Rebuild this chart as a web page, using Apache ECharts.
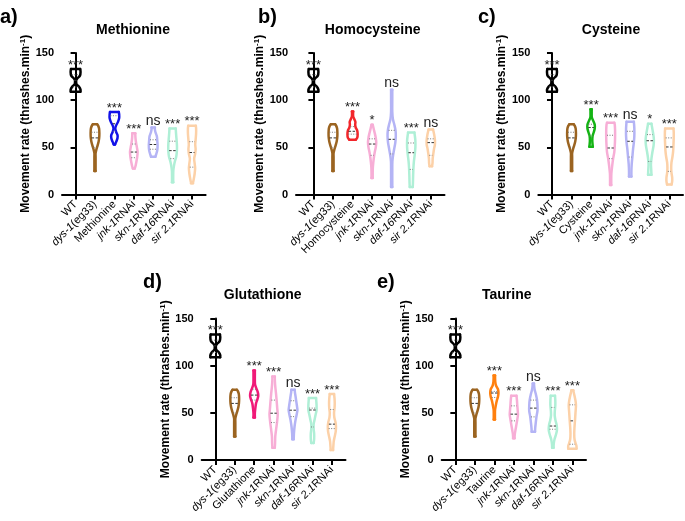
<!DOCTYPE html>
<html><head><meta charset="utf-8">
<script src="https://cdn.jsdelivr.net/npm/echarts@6/dist/echarts.min.js"></script>
<style>html,body{margin:0;padding:0;background:#fff}#c{width:685px;height:521px}</style>
</head><body><div id="c"></div>
<script>
// ---------------- data ----------------
const panelTitles = ['Methionine', 'Homocysteine', 'Cysteine', 'Glutathione', 'Taurine'];
const panelLetters = ['a)', 'b)', 'c)', 'd)', 'e)'];
const groupLabels = ['WT', 'dys-1(eg33)', '', 'jnk-1RNAi', 'skn-1RNAi', 'daf-16RNAi', 'sir 2.1RNAi'];
const yTicks = [0, 50, 100, 150];

// violin profiles: [movement rate, relative width]
const wtProfile = [[109,0.62],[111,0.64],[114,0.5],[117,0.22],[119,0.12],[121,0.12],[123,0.3],[126,0.58],[130,0.64],[133,0.6]];
const dysProfile = [[25,0.08],[28,0.12],[32,0.15],[36,0.16],[40,0.15],[44,0.18],[48,0.28],[52,0.4],[56,0.5],[60,0.56],[65,0.58],[70,0.55],[73,0.45],[74.5,0.35]];
const wtQuart = [114, 121, 127];
const dysQuart = [50, 60, 66];

// a) Methionine
const metProfile = [[53,0.18],[56,0.32],[60,0.45],[63,0.45],[66,0.32],[70,0.22],[73,0.3],[77,0.5],[81,0.62],[85,0.62],[87.5,0.58]];
const jnkA = [[27.5,0.22],[30,0.3],[35,0.4],[40,0.48],[45,0.52],[50,0.45],[55,0.36],[60,0.3],[65,0.28]];
const sknA = [[40,0.35],[43,0.45],[47,0.55],[52,0.58],[57,0.55],[62,0.5],[66,0.36],[69,0.3],[71,0.3]];
const dafA = [[13,0.15],[18,0.17],[25,0.2],[30,0.26],[35,0.36],[40,0.5],[45,0.56],[50,0.58],[55,0.56],[60,0.52],[65,0.48],[70,0.45]];
const sirA = [[12,0.22],[16,0.3],[22,0.4],[28,0.45],[33,0.4],[38,0.35],[43,0.45],[48,0.5],[53,0.46],[58,0.5],[65,0.55],[70,0.55],[73,0.52]];
const quartA = [wtQuart, dysQuart, [67,75,83.5], [39,45,53.5], [48,53,58], [38,46.5,56.5], [29,44.5,56]];
const sigA = ['***', '', '***', '***', 'ns', '***', '***'];

// b) Homocysteine
const hcyProfile = [[58,0.45],[60,0.6],[64,0.65],[68,0.6],[71,0.45],[74,0.4],[77,0.42],[80,0.3],[83,0.16],[88,0.12]];
const jnkB = [[17.5,0.15],[22,0.17],[28,0.2],[34,0.25],[40,0.32],[45,0.4],[50,0.5],[55,0.55],[60,0.5],[65,0.4],[70,0.28],[74,0.18]];
const sknB = [[8,0.1],[15,0.12],[25,0.15],[35,0.2],[42,0.28],[48,0.38],[55,0.5],[62,0.55],[68,0.52],[74,0.4],[80,0.25],[88,0.12],[100,0.08],[111,0.06]];
const dafB = [[8,0.28],[12,0.3],[20,0.32],[28,0.35],[35,0.4],[42,0.48],[50,0.55],[57,0.55],[62,0.5],[65.6,0.45]];
const sirB = [[30,0.25],[33,0.3],[38,0.32],[43,0.38],[48,0.45],[53,0.55],[58,0.55],[63,0.48],[67,0.4],[69,0.35]];
const quartB = [wtQuart, dysQuart, [64,67,72], [41.5,53.5,59], [43,58.5,68], [26.6,44.3,54.6], [41.5,55,59]];
const sigB = ['***', '', '***', '*', 'ns', '***', 'ns'];

// c) Cysteine
const cysProfile = [[50.5,0.3],[53,0.28],[57,0.25],[62,0.28],[66,0.4],[70,0.5],[74,0.5],[78,0.35],[82,0.2],[86,0.15],[90.5,0.12]];
const jnkC = [[10,0.15],[15,0.15],[22,0.2],[30,0.28],[38,0.38],[45,0.5],[52,0.55],[60,0.58],[68,0.58],[74,0.55],[76,0.5]];
const sknC = [[19,0.25],[25,0.25],[32,0.28],[40,0.35],[48,0.42],[55,0.5],[62,0.55],[70,0.55],[75,0.52],[77,0.5]];
const dafC = [[21,0.3],[26,0.28],[32,0.25],[38,0.3],[45,0.4],[52,0.52],[58,0.55],[63,0.5],[68,0.42],[72,0.35],[75,0.3]];
const sirC = [[10.5,0.35],[14,0.42],[18,0.42],[23,0.35],[28,0.32],[34,0.35],[40,0.45],[46,0.52],[52,0.55],[60,0.58],[66,0.58],[70,0.55]];
const quartC = [wtQuart, dysQuart, [62,71,74.5], [38,49.3,62.8], [39.7,56.4,67], [35,57,63.5], [24.5,50.4,60]];
const sigC = ['***', '', '***', '***', 'ns', '*', '***'];

// d) Glutathione
const gluProfile = [[45,0.2],[50,0.2],[55,0.25],[60,0.32],[64,0.45],[68,0.55],[72,0.5],[76,0.35],[80,0.22],[85,0.2],[90,0.2],[95,0.2]];
const jnkD = [[13,0.25],[18,0.28],[25,0.3],[32,0.38],[40,0.48],[48,0.55],[55,0.5],[62,0.45],[70,0.38],[78,0.3],[84,0.26],[88.5,0.25]];
const sknD = [[22,0.2],[28,0.22],[35,0.28],[42,0.38],[48,0.5],[53,0.58],[58,0.52],[63,0.45],[68,0.38],[72,0.32],[74.5,0.3]];
const dafD = [[18,0.25],[22,0.3],[28,0.3],[33,0.25],[38,0.25],[43,0.35],[48,0.45],[53,0.55],[58,0.55],[63,0.52],[65.6,0.5]];
const sirD = [[10.5,0.25],[15,0.28],[20,0.32],[25,0.42],[30,0.52],[35,0.55],[40,0.5],[45,0.38],[50,0.35],[55,0.4],[60,0.42],[65,0.4],[70,0.35]];
const quartD = [wtQuart, dysQuart, [63.5,68.8,75], [39.7,49.6,63.5], [46,52.8,62.8], [35,53,55], [33.3,38,53.5]];
const sigD = ['***', '', '***', '***', 'ns', '***', '***'];

// e) Taurine
const tauProfile = [[43,0.15],[48,0.15],[53,0.2],[58,0.28],[63,0.38],[67,0.5],[71,0.55],[75,0.5],[79,0.3],[83,0.22],[89.5,0.2]];
const jnkE = [[23,0.2],[27,0.22],[32,0.3],[38,0.4],[43,0.48],[48,0.55],[53,0.52],[58,0.48],[63,0.45],[68,0.4]];
const sknE = [[30,0.3],[34,0.32],[40,0.38],[46,0.45],[52,0.55],[58,0.55],[64,0.5],[70,0.38],[75,0.25],[81,0.15]];
const dafE = [[13,0.2],[17,0.22],[22,0.3],[27,0.45],[32,0.55],[37,0.52],[42,0.4],[47,0.32],[52,0.33],[58,0.38],[63,0.38],[68,0.35]];
const sirE = [[12,0.55],[15,0.55],[18,0.45],[22,0.35],[28,0.32],[35,0.35],[42,0.4],[50,0.45],[58,0.5],[63,0.45],[68,0.35],[74,0.22]];
const quartE = [wtQuart, dysQuart, [66.3,71,72.7], [41.5,48.6,57.4], [45.7,55,63.5], [32.6,36,55.7], [16.7,41.5,58.5]];
const sigE = ['***', '', '***', '***', 'ns', '***', '***'];

const panelProfiles = [
  [wtProfile, dysProfile, metProfile, jnkA, sknA, dafA, sirA],
  [wtProfile, dysProfile, hcyProfile, jnkB, sknB, dafB, sirB],
  [wtProfile, dysProfile, cysProfile, jnkC, sknC, dafC, sirC],
  [wtProfile, dysProfile, gluProfile, jnkD, sknD, dafD, sirD],
  [wtProfile, dysProfile, tauProfile, jnkE, sknE, dafE, sirE]
];
const panelQuarts = [quartA, quartB, quartC, quartD, quartE];
const panelSigs = [sigA, sigB, sigC, sigD, sigE];

// ---------------- style / layout ----------------
const FONT = "'Liberation Sans', Arial, sans-serif";
const treatColors = ['#1212E8', '#F2262B', '#14B414', '#F01A78', '#FF800E'];
const baseColors = ['#000000', '#9B6421', null, '#F7AED6', '#B4B4F5', '#AFEFD6', '#FCD1A8'];
const LW = 2.5;
const grids = [
  {left: 62, top: 53, width: 143.6, height: 141.5},
  {left: 296, top: 53, width: 148.5, height: 141.5},
  {left: 538.3, top: 53, width: 144.7, height: 141.5},
  {left: 201.7, top: 318.5, width: 143.8, height: 141.5},
  {left: 441.7, top: 318.5, width: 144.3, height: 141.5}
];
const xMins = [-0.7, -0.89, -0.7, -0.7, -0.7];
const nameGaps = [27, 22, 25, 28, 28];
const titlePos = [[133, 23], [372.7, 23], [611, 23], [262.7, 288], [506.7, 288]];
const letterPos = [[0, 7], [258, 7], [478, 7], [143, 272], [377, 272]];

function labelRich(txt) {
  const m = txt.match(/^(dys-1|jnk-1|skn-1|daf-16|sir 2\.1)(.*)$/);
  if (m) return '{i|' + m[1] + '}{n|' + m[2] + '}';
  return '{n|' + txt + '}';
}

function widthAt(prof, v) {
  for (let k = 0; k < prof.length - 1; k++) {
    const a = prof[k], b = prof[k + 1];
    if (v >= a[0] && v <= b[0]) {
      const t = (v - a[0]) / (b[0] - a[0]);
      return a[1] + t * (b[1] - a[1]);
    }
  }
  return prof[prof.length - 1][1];
}

function makeRender(pi) {
  return function (params, api) {
    const i = api.value(0);
    const prof = panelProfiles[pi][i];
    const quart = panelQuarts[pi][i];
    const sig = panelSigs[pi][i];
    const color = i === 2 ? treatColors[pi] : baseColors[i];
    const unit = api.size([1, 0])[0];
    const hwOf = w => Math.max(0.6, (w * unit - LW) / 2);
    const right = [], left = [];
    prof.forEach(([v, w]) => {
      const p = api.coord([i, v]);
      const hw = hwOf(w);
      right.push([p[0] + hw, p[1]]);
      left.push([p[0] - hw, p[1]]);
    });
    const stroke = {stroke: color, lineWidth: LW, fill: null, lineJoin: 'round', lineCap: 'round'};
    const children = [
      {type: 'polyline', shape: {points: right, smooth: 0.3}, style: stroke},
      {type: 'polyline', shape: {points: left, smooth: 0.3}, style: stroke},
      {type: 'line', shape: {x1: left[0][0], y1: left[0][1], x2: right[0][0], y2: right[0][1]}, style: stroke},
      {type: 'line', shape: {x1: left[left.length - 1][0], y1: left[left.length - 1][1], x2: right[right.length - 1][0], y2: right[right.length - 1][1]}, style: stroke}
    ];
    quart.forEach((q, k) => {
      const p = api.coord([i, q]);
      const hw = Math.max(1.5, hwOf(widthAt(prof, q)) - 0.8);
      children.push({
        type: 'line',
        shape: {x1: p[0] - hw, y1: p[1], x2: p[0] + hw, y2: p[1]},
        style: k === 1 ? {stroke: '#333', lineWidth: 1, lineDash: [2.5, 1.5]} : {stroke: '#777', lineWidth: 1, lineDash: [1, 1.5]}
      });
    });
    if (sig) {
      const top = api.coord([i, prof[prof.length - 1][0]]);
      const isNs = sig === 'ns';
      children.push({
        type: 'text',
        style: {
          text: sig, x: top[0], y: top[1] - (isNs ? 6.5 : 4),
          align: 'center', verticalAlign: 'middle',
          font: (isNs ? '14px ' : '13px ') + FONT, fill: '#222'
        }
      });
    }
    return {type: 'group', children};
  };
}

const option = {
  backgroundColor: '#fff',
  animation: false,
  title: [],
  grid: [], xAxis: [], yAxis: [], series: []
};

panelTitles.forEach((t, pi) => {
  option.title.push({
    text: t, left: titlePos[pi][0], top: titlePos[pi][1], textAlign: 'center', padding: 0,
    textStyle: {fontFamily: FONT, fontWeight: 'bold', fontSize: 14, color: '#000'}
  });
  option.title.push({
    text: panelLetters[pi], left: letterPos[pi][0], top: letterPos[pi][1], padding: 0,
    textStyle: {fontFamily: FONT, fontWeight: 'bold', fontSize: 20, color: '#000'}
  });
  option.grid.push(Object.assign({containLabel: false}, grids[pi]));
  const cats = groupLabels.map((g, k) => k === 2 ? t : g);
  const idx = cats.map((_, k) => k);
  option.xAxis.push({
    type: 'value', gridIndex: pi, min: xMins[pi], max: 6.7,
    splitLine: {show: false},
    axisLine: {lineStyle: {color: '#000', width: 2}},
    axisTick: {customValues: idx, length: 5, lineStyle: {color: '#000', width: 2}},
    axisLabel: {
      customValues: idx, rotate: 45, margin: 8,
      formatter: v => labelRich(cats[Math.round(v)]),
      rich: {
        n: {fontFamily: FONT, fontSize: 11, color: '#000'},
        i: {fontFamily: FONT, fontSize: 11, color: '#000', fontStyle: 'italic'}
      }
    }
  });
  option.yAxis.push({
    type: 'value', gridIndex: pi, min: yTicks[0], max: yTicks[yTicks.length - 1], interval: 50,
    splitLine: {show: false},
    axisLine: {show: true, lineStyle: {color: '#000', width: 2}},
    axisTick: {show: true, length: 5, lineStyle: {color: '#000', width: 2}},
    axisLabel: {fontFamily: FONT, fontSize: 11, fontWeight: 'bold', color: '#000', margin: 8},
    name: '{b|Movement rate (thrashes.min}{s|-1}{b|)}',
    nameLocation: 'middle', nameGap: nameGaps[pi],
    nameTextStyle: {
      rich: {
        b: {fontFamily: FONT, fontSize: 12, fontWeight: 'bold', color: '#000'},
        s: {fontFamily: FONT, fontSize: 8, fontWeight: 'bold', color: '#000', verticalAlign: 'top', padding: [0, 0, 6, 0]}
      }
    }
  });
  option.series.push({
    type: 'custom', xAxisIndex: pi, yAxisIndex: pi,
    renderItem: makeRender(pi),
    encode: {x: 0, y: [1, 2]},
    data: panelProfiles[pi].map((p, k) => [k, p[0][0], p[p.length - 1][0]]),
    clip: false
  });
});

const chart = echarts.init(document.getElementById('c'), null, {renderer: 'canvas'});
chart.setOption(option);
</script>
</body></html>
